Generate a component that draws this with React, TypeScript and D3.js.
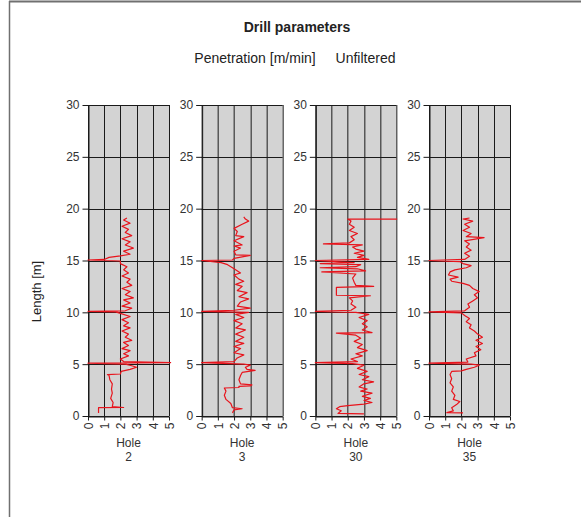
import React, { useEffect, useRef } from "react";
import * as d3 from "d3";

// hole names, drawn under each column
const holes = ["2", "3", "30", "35"];

// [length m, penetration m/min] bottom to top
const hole2 = [
  [0.3, 0.65], [0.8, 0.65], [0.82, 2.2], [0.9, 1.5], [1.3, 1.55], [1.7, 1.4], [2.2, 1.5],
  [2.6, 1.45], [3.1, 1.5], [3.5, 1.35], [3.9, 1.3], [4.0, 1.2], [4.05, 2.0], [4.3, 2.05],
  [4.5, 2.6], [4.7, 3.0], [4.85, 2.7], [5.0, 2.3], [5.1, 0], [5.15, 5.1], [5.25, 2.2],
  [5.5, 2.0], [5.8, 2.5], [6.0, 2.2], [6.3, 2.6], [6.5, 2.1], [6.8, 2.5], [7.1, 2.2],
  [7.3, 2.7], [7.6, 2.3], [7.9, 2.5], [8.2, 2.1], [8.5, 2.6], [8.7, 2.2], [9.0, 2.5],
  [9.3, 2.1], [9.6, 2.6], [9.9, 2.0], [10.05, 1.7], [10.1, 0], [10.15, 2.3], [10.4, 2.7],
  [10.6, 2.1], [10.9, 2.6], [11.2, 2.2], [11.4, 2.8], [11.7, 2.3], [12.0, 2.6], [12.3, 2.1],
  [12.6, 2.7], [12.9, 2.4], [13.2, 2.6], [13.5, 2.1], [13.8, 2.5], [14.1, 2.2], [14.4, 2.4],
  [14.7, 2.0], [14.95, 2.0], [15.05, 0], [15.1, 1.0], [15.3, 1.3], [15.45, 2.0], [15.6, 2.6],
  [15.9, 2.2], [16.2, 2.8], [16.5, 2.3], [16.8, 2.6], [17.1, 2.1], [17.4, 2.7], [17.7, 2.3],
  [18.0, 2.5], [18.3, 2.1], [18.6, 2.6], [18.9, 2.2], [19.1, 2.4],
];

const hole3 = [
  [0.3, 1.9], [0.6, 2.0], [0.7, 2.5], [0.8, 1.9], [1.2, 1.8], [1.6, 1.5], [2.0, 1.4],
  [2.4, 1.5], [2.7, 1.4], [2.75, 2.3], [2.85, 2.3], [2.9, 3.0], [3.0, 3.1], [3.1, 2.4],
  [3.5, 2.3], [3.9, 2.4], [4.2, 2.5], [4.4, 3.3], [4.5, 2.8], [4.7, 2.7], [4.9, 3.0],
  [5.0, 2.6], [5.15, 0], [5.25, 2.0], [5.6, 2.2], [5.9, 2.6], [6.1, 2.0], [6.5, 2.4],
  [6.7, 2.0], [7.0, 2.6], [7.2, 2.1], [7.6, 2.6], [7.9, 2.1], [8.3, 2.7], [8.5, 2.1],
  [8.9, 2.5], [9.2, 2.0], [9.5, 2.6], [9.8, 2.1], [10.0, 2.9], [10.1, 0], [10.2, 2.0],
  [10.4, 3.0], [10.6, 2.2], [11.0, 2.4], [11.3, 2.9], [11.5, 2.3], [11.9, 2.8], [12.1, 2.2],
  [12.5, 2.5], [12.7, 2.1], [13.0, 2.6], [13.2, 2.3], [13.6, 2.0], [13.8, 2.4], [14.2, 2.0],
  [14.6, 1.6], [14.8, 1.2], [15.0, 0], [15.05, 1.9], [15.2, 2.0], [15.5, 3.0], [15.55, 2.1],
  [15.9, 2.0], [16.2, 2.4], [16.4, 2.0], [16.5, 2.5], [16.9, 2.0], [17.3, 2.6], [17.4, 2.1],
  [17.8, 2.2], [18.1, 2.0], [18.5, 2.5], [18.8, 2.9], [19.0, 2.7], [19.2, 2.6],
];

const hole30 = [
  [0.2, 3.0], [0.25, 1.4], [0.5, 1.6], [0.7, 1.3], [0.9, 1.5], [1.0, 2.0], [1.15, 3.0],
  [1.3, 3.5], [1.5, 3.0], [1.7, 3.4], [1.9, 2.9], [2.2, 3.5], [2.4, 2.8], [2.6, 3.2],
  [2.8, 2.7], [3.1, 3.0], [3.3, 3.6], [3.5, 2.9], [3.8, 3.3], [4.0, 2.7], [4.3, 3.2],
  [4.6, 2.6], [4.9, 3.0], [5.05, 2.3], [5.15, 0], [5.25, 2.6], [5.5, 2.2], [5.8, 2.9],
  [6.0, 2.5], [6.3, 3.2], [6.6, 2.6], [6.9, 2.9], [7.2, 2.4], [7.5, 2.8], [7.8, 2.5],
  [8.0, 1.3], [8.05, 3.5], [8.3, 2.9], [8.6, 3.2], [8.9, 2.9], [9.2, 3.2], [9.5, 2.7],
  [9.8, 3.3], [10.0, 2.5], [10.1, 0], [10.2, 2.2], [10.5, 2.5], [10.8, 2.2], [11.1, 2.3],
  [11.4, 2.1], [11.6, 3.4], [11.65, 1.3], [12.4, 1.3], [12.5, 3.6], [12.6, 2.5], [12.9, 2.4],
  [13.3, 2.3], [13.7, 2.5], [13.9, 0.4], [14.0, 3.1], [14.2, 2.6], [14.3, 0.3], [14.4, 2.5],
  [14.6, 2.8], [14.7, 0.3], [14.8, 2.4], [15.0, 0], [15.1, 3.3], [15.3, 2.6], [15.5, 3.0],
  [15.7, 2.4], [15.9, 3.0], [16.1, 2.5], [16.3, 2.3], [16.5, 2.9], [16.6, 0.5], [16.7, 2.1],
  [17.0, 2.4], [17.3, 2.2], [17.6, 2.6], [17.9, 2.1], [18.2, 2.4], [18.5, 2.1], [18.8, 2.2],
  [19.0, 2.0], [19.0, 5.05],
];

const hole35 = [
  [0.3, 2.1], [0.32, 1.1], [0.5, 1.5], [0.8, 1.4], [1.1, 1.7], [1.4, 1.9], [1.6, 1.5],
  [2.0, 1.6], [2.4, 1.4], [2.8, 1.5], [3.2, 1.3], [3.6, 1.4], [4.0, 1.3], [4.3, 1.4],
  [4.35, 2.0], [4.5, 2.3], [4.7, 2.8], [4.9, 3.1], [5.0, 2.6], [5.1, 0], [5.2, 2.4],
  [5.5, 2.3], [5.8, 2.9], [6.1, 2.8], [6.4, 3.2], [6.7, 2.9], [7.0, 3.3], [7.3, 2.9],
  [7.6, 3.3], [7.9, 3.0], [8.2, 2.8], [8.5, 2.5], [8.8, 2.6], [9.1, 2.3], [9.4, 2.5],
  [9.7, 2.2], [9.95, 2.0], [10.05, 0], [10.15, 2.2], [10.5, 2.5], [10.8, 2.4], [11.1, 2.7],
  [11.4, 3.0], [11.7, 2.8], [12.0, 3.1], [12.3, 2.7], [12.6, 2.5], [12.8, 2.1], [13.0, 1.4],
  [13.2, 1.3], [13.4, 1.8], [13.6, 1.2], [13.9, 1.3], [14.1, 1.6], [14.3, 2.3], [14.5, 2.6],
  [14.7, 2.1], [14.9, 1.9], [15.0, 0], [15.1, 2.2], [15.4, 2.5], [15.7, 2.2], [16.0, 2.6],
  [16.3, 2.3], [16.6, 2.5], [16.9, 2.2], [17.2, 3.4], [17.3, 2.3], [17.6, 2.6], [17.9, 2.1],
  [18.2, 2.5], [18.5, 2.2], [18.8, 2.7], [19.0, 2.1], [19.1, 2.5],
];

const traces = [hole2, hole3, hole30, hole35];

const xTicks = [0, 1, 2, 3, 4, 5];
const yTicks = [0, 5, 10, 15, 20, 25, 30];

const FONT = "'Liberation Sans', Arial, sans-serif";

export default function App({
  width = 581,
  height = 517,
  plotTop = 105,
  plotBottom = 416,
  firstLeft = 88,
  lastLeft = 429,
  panelWidth = 81,
}) {
  const svgRef = useRef(null);

  useEffect(() => {
    const svg = d3.select(svgRef.current);
    svg.selectAll("*").remove();

    // frame, only top and left edges show
    svg.append("line").attr("x1", 9).attr("x2", width).attr("y1", 1.5).attr("y2", 1.5)
      .attr("stroke", "#707070").attr("stroke-width", 2);
    svg.append("line").attr("x1", 9.5).attr("x2", 9.5).attr("y1", 1).attr("y2", height)
      .attr("stroke", "#707070").attr("stroke-width", 1.5);

    svg.append("text")
      .attr("x", 297).attr("y", 32)
      .attr("text-anchor", "middle")
      .attr("font-family", FONT).attr("font-size", 14).attr("font-weight", "bold")
      .attr("fill", "#222")
      .text("Drill parameters");

    svg.append("text")
      .attr("x", 255).attr("y", 63)
      .attr("text-anchor", "middle")
      .attr("font-family", FONT).attr("font-size", 14).attr("fill", "#222")
      .text("Penetration [m/min]");

    svg.append("text")
      .attr("x", 365.5).attr("y", 63)
      .attr("text-anchor", "middle")
      .attr("font-family", FONT).attr("font-size", 14).attr("fill", "#222")
      .text("Unfiltered");

    svg.append("text")
      .attr("transform", `translate(36, ${(plotTop + plotBottom) / 2 + 31}) rotate(-90)`)
      .attr("text-anchor", "middle")
      .attr("dy", "0.35em")
      .attr("font-family", FONT).attr("font-size", 13).attr("fill", "#222")
      .text("Length [m]");

    const panelX = d3.scalePoint().domain(holes).range([firstLeft, lastLeft]);

    const x = d3.scaleLinear().domain([0, 5]).range([0, panelWidth]);
    const y = d3.scaleLinear().domain([0, 30]).range([plotBottom, plotTop]);

    const line = d3.line()
      .x((d) => x(d[1]))
      .y((d) => y(d[0]));

    holes.forEach((hole, i) => {
      const g = svg.append("g").attr("transform", `translate(${panelX(hole)},0)`);

      g.append("rect")
        .attr("x", 0).attr("y", plotTop)
        .attr("width", panelWidth).attr("height", plotBottom - plotTop)
        .attr("fill", "#d3d3d3");

      // grid
      g.append("g").selectAll("line").data(xTicks).join("line")
        .attr("x1", (d) => Math.round(x(d)) + 0.5).attr("x2", (d) => Math.round(x(d)) + 0.5)
        .attr("y1", plotTop).attr("y2", plotBottom)
        .attr("stroke", "#1a1a1a");
      g.append("g").selectAll("line").data(yTicks).join("line")
        .attr("x1", 0).attr("x2", panelWidth)
        .attr("y1", (d) => Math.round(y(d)) + 0.5).attr("y2", (d) => Math.round(y(d)) + 0.5)
        .attr("stroke", "#1a1a1a");

      const yAxis = d3.axisLeft(y).tickValues(yTicks).tickFormat(d3.format("d"))
        .tickSize(6).tickPadding(3).tickSizeOuter(0);
      g.append("g")
        .attr("transform", "translate(0.5,0)")
        .call(yAxis)
        .call((a) => a.select(".domain").attr("stroke", "#1a1a1a"))
        .call((a) => a.selectAll("line").attr("stroke", "#1a1a1a"))
        .call((a) => a.selectAll("text").attr("fill", "#333")
          .attr("font-family", FONT).attr("font-size", 12));

      const xAxis = d3.axisBottom(x).tickValues(xTicks).tickFormat(d3.format("d"))
        .tickSize(4).tickSizeOuter(0);
      g.append("g")
        .attr("transform", `translate(0,${plotBottom + 0.5})`)
        .call(xAxis)
        .call((a) => a.select(".domain").attr("stroke", "#1a1a1a"))
        .call((a) => a.selectAll("line").attr("stroke", "#1a1a1a"))
        .call((a) => a.selectAll("text")
          .attr("transform", "rotate(-90)")
          .attr("text-anchor", "end")
          .attr("x", -6).attr("y", 0).attr("dy", "0.35em")
          .attr("fill", "#333")
          .attr("font-family", FONT).attr("font-size", 12));

      g.append("path")
        .datum(traces[i])
        .attr("fill", "none")
        .attr("stroke", "#e8141c")
        .attr("stroke-width", 1.2)
        .attr("stroke-linejoin", "round")
        .attr("d", line);

      g.append("text")
        .attr("x", panelWidth / 2).attr("y", 447)
        .attr("text-anchor", "middle")
        .attr("font-family", FONT).attr("font-size", 12).attr("fill", "#333")
        .text("Hole");
      g.append("text")
        .attr("x", panelWidth / 2).attr("y", 461)
        .attr("text-anchor", "middle")
        .attr("font-family", FONT).attr("font-size", 12).attr("fill", "#333")
        .text(hole);
    });
  }, [width, height, plotTop, plotBottom, firstLeft, lastLeft, panelWidth]);

  return (
    <svg
      ref={svgRef}
      width={width}
      height={height}
      style={{ position: "absolute", left: 0, top: 0, background: "#fff" }}
    />
  );
}
